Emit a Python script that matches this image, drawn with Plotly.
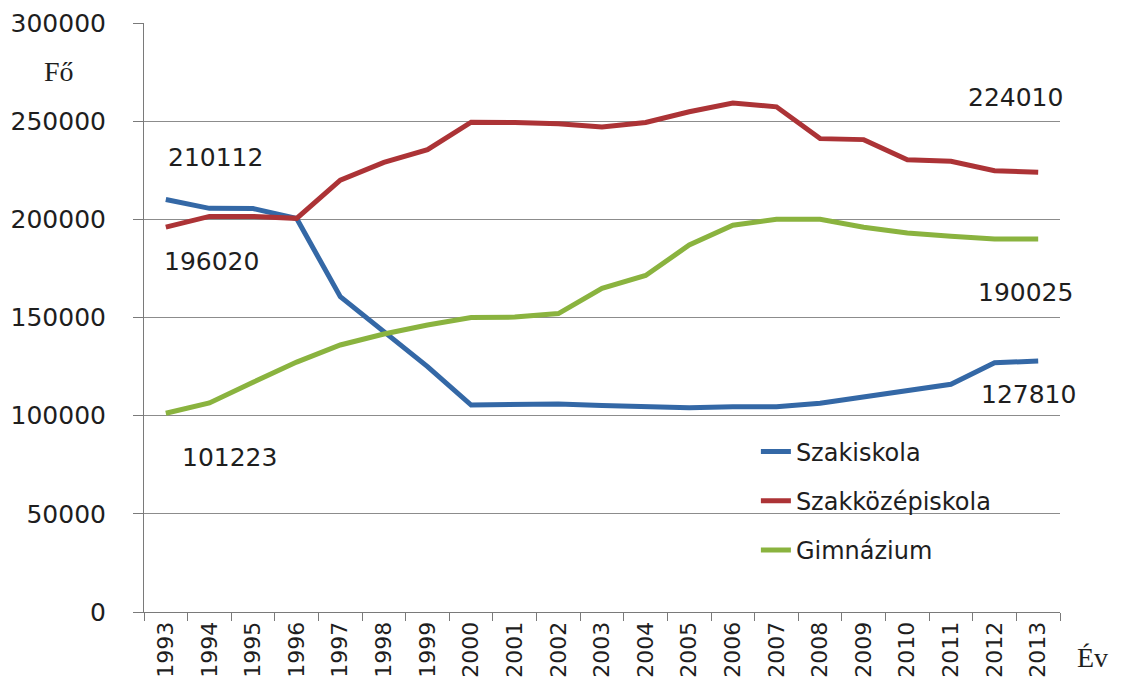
import plotly.graph_objects as go

years = [str(y) for y in range(1993, 2014)]
szakiskola = [210112, 205600, 205500, 200400, 160600, 143000, 125000, 105400, 106000, 106000,
              105200, 104600, 104000, 104500, 104600, 106300, 109500, 112700, 116000, 127000, 127810]
szakkozep = [196020, 201500, 201500, 200500, 220000, 229000, 235500, 249500, 249300, 248700,
             247000, 249300, 254800, 259200, 257300, 241100, 240600, 230400, 229600, 224800, 224010]
gimnazium = [101223, 106500, 117000, 127300, 136000, 141600, 146200, 150000, 150200, 152000,
             164900, 171400, 186900, 197000, 200000, 200000, 196000, 193000, 191400, 190000, 190025]

names = ["Szakiskola", "Szakközépiskola", "Gimnázium"]
colors = ["#3468A6", "#AC3336", "#8AB33F"]
series = [szakiskola, szakkozep, gimnazium]

fig = go.Figure()
for i, (nm, col, vals) in enumerate(zip(names, colors, series)):
    fig.add_trace(go.Scatter(x=years, y=vals, mode="lines", name=nm,
                             legendgroup=nm,
                             line=dict(color=col, width=5), hoverinfo="skip"))

txt = "#1E1E1E"
num_font = dict(family="DejaVu Sans", size=25, color=txt)
labels = [
    (0, szakiskola[0], 50, 42),
    (0, szakkozep[0], 46, -34),
    (0, gimnazium[0], 64, -44),
    (len(years) - 1, szakkozep[-1], -23, 75),
    (len(years) - 1, gimnazium[-1], -13, -54),
    (len(years) - 1, szakiskola[-1], -10, -33),
]
for xi, v, dx, dy in labels:
    fig.add_annotation(x=xi, y=v, xref="x", yref="y", text=str(v), showarrow=False,
                       xshift=dx, yshift=dy, font=num_font,
                       xanchor="center", yanchor="middle")

fig.add_annotation(xref="paper", yref="paper", x=-0.0928, y=0.917, text="Fő",
                   showarrow=False, font=dict(family="Liberation Serif", size=28, color=txt),
                   xanchor="center", yanchor="middle")
fig.add_annotation(xref="paper", yref="paper", x=1.035, y=-0.078, text="Év",
                   showarrow=False, font=dict(family="Liberation Serif", size=28, color=txt),
                   xanchor="center", yanchor="middle")

fig.update_layout(
    width=1117, height=681,
    margin=dict(l=136, r=65, t=15, b=77, autoexpand=False),
    paper_bgcolor="white", plot_bgcolor="white",
    showlegend=True,
    legend=dict(x=0.668, y=0.31, xanchor="left", yanchor="top",
                font=dict(family="DejaVu Sans", size=24, color=txt),
                bgcolor="rgba(0,0,0,0)", tracegroupgap=15, traceorder="grouped"),
    xaxis=dict(type="category", range=[-0.5, 20.5], showgrid=False, automargin=False,
               showline=True, linecolor="#7A7A7A", linewidth=1,
               ticks="outside", ticklen=8, tickcolor="#7A7A7A", tickson="boundaries",
               tickangle=-90, tickfont=dict(family="DejaVu Sans", size=22, color=txt)),
    yaxis=dict(range=[0, 300000], dtick=50000, tickformat="d", automargin=False,
               showgrid=True, gridcolor="#8C8C8C", gridwidth=1,
               showline=True, linecolor="#7A7A7A", linewidth=1,
               ticks="outside", ticklen=10, tickcolor="#7A7A7A",
               ticklabelstandoff=22, zeroline=False,
               tickfont=dict(family="DejaVu Sans", size=25, color=txt)),
)

fig.write_html("out.html")
